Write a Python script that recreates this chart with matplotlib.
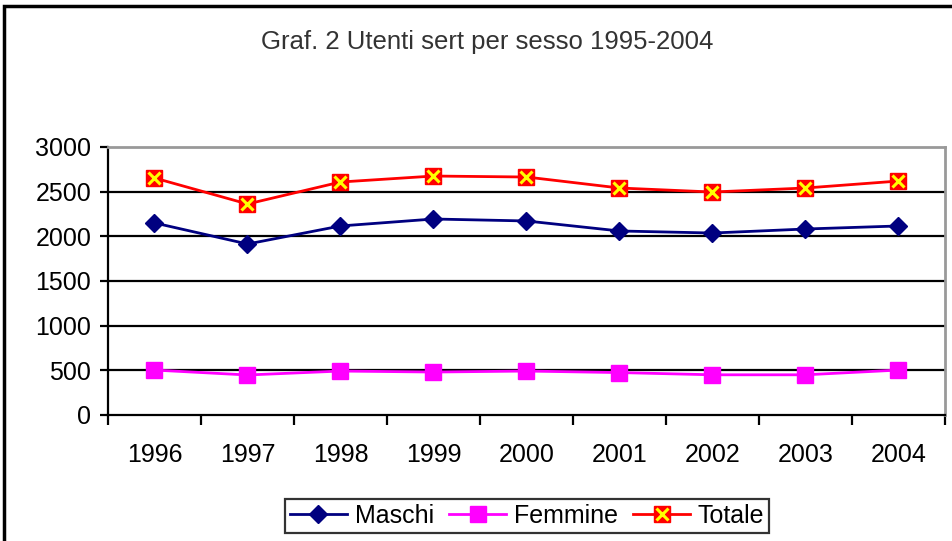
import matplotlib
matplotlib.use("Agg")
import matplotlib.pyplot as plt
from matplotlib.legend_handler import HandlerTuple
from matplotlib.patches import Rectangle

years = ["1996", "1997", "1998", "1999", "2000", "2001", "2002", "2003", "2004"]
maschi = [2150, 1914, 2116, 2194, 2172, 2060, 2037, 2082, 2116]
femmine = [503, 448, 492, 481, 492, 475, 450, 450, 503]
totale = [2653, 2362, 2608, 2675, 2664, 2541, 2496, 2541, 2619]
yticks = [0, 500, 1000, 1500, 2000, 2500, 3000]

plt.rcParams['font.family'] = ['Liberation Sans', 'DejaVu Sans']

fig = plt.figure(figsize=(9.53, 5.41), dpi=100)
ax = fig.add_axes([108/953, 1-415/541, (945-108)/953, (415-147)/541])

x = list(range(1, len(years)+1))

# gridlines
for yv in yticks[1:-1]:
    ax.axhline(yv, color='black', lw=1.6, zorder=1)

l1, = ax.plot(x, maschi, color='#000080', lw=2, marker='D', ms=9, mfc='#000080',
              mec='#000080', zorder=3)
l2, = ax.plot(x, femmine, color='#FF00FF', lw=2, marker='s', ms=11, mfc='#FF00FF',
              mec='#FF00FF', zorder=3)
l3, = ax.plot(x, totale, color='#FF0000', lw=2, marker='s', ms=12, mfc='#FF0000',
              mec='#FF0000', zorder=3)
l3x, = ax.plot(x, totale, ls='none', marker='x', ms=8.5, mew=2.2, color='#FFFF00', zorder=4)

ax.set_xlim(0.5, len(years)+0.5)
ax.set_ylim(0, 3000)
ax.set_yticks(yticks)
ax.set_yticklabels([str(v) for v in yticks])
ax.set_xticks([i+0.5 for i in range(0, len(years)+1)])
ax.set_xticklabels([])
ax.set_xticks(x, minor=True)
ax.set_xticklabels(years, minor=True)
ax.tick_params(axis='x', which='minor', length=0, pad=20, labelsize=18)
ax.tick_params(axis='x', which='major', length=7, width=1.6, direction='out', color='black')
ax.tick_params(axis='y', length=6, width=1.6, direction='out', labelsize=18, pad=6)

ax.spines['left'].set_color('black')
ax.spines['left'].set_linewidth(1.6)
ax.spines['bottom'].set_color('black')
ax.spines['bottom'].set_linewidth(1.6)
ax.spines['top'].set_color('#999999')
ax.spines['top'].set_linewidth(2)
ax.spines['right'].set_color('#999999')
ax.spines['right'].set_linewidth(2)

fig.text(487/953, 1-42/541, "Graf. 2 Utenti sert per sesso 1995-2004",
         ha='center', va='center', fontsize=18.5, color='#333333')

leg = fig.legend([l1, l2, (l3, l3x)], ["Maschi", "Femmine", "Totale"],
                 handler_map={tuple: HandlerTuple(ndivide=1, pad=0)},
                 loc='center', bbox_to_anchor=(527/953, 1-516/541), ncol=3,
                 fontsize=18, frameon=True, fancybox=False, edgecolor='black',
                 handlelength=2.3, handletextpad=0.3, columnspacing=0.6,
                 borderpad=0.2)
leg.get_frame().set_linewidth(1.6)

# outer chart border (left and top visible)
fig.add_artist(Rectangle((4/953, -0.05), 1.2, 1-6/541+0.05, transform=fig.transFigure,
                         fill=False, edgecolor='black', lw=2.5))

fig.savefig("out.png", dpi=100)
